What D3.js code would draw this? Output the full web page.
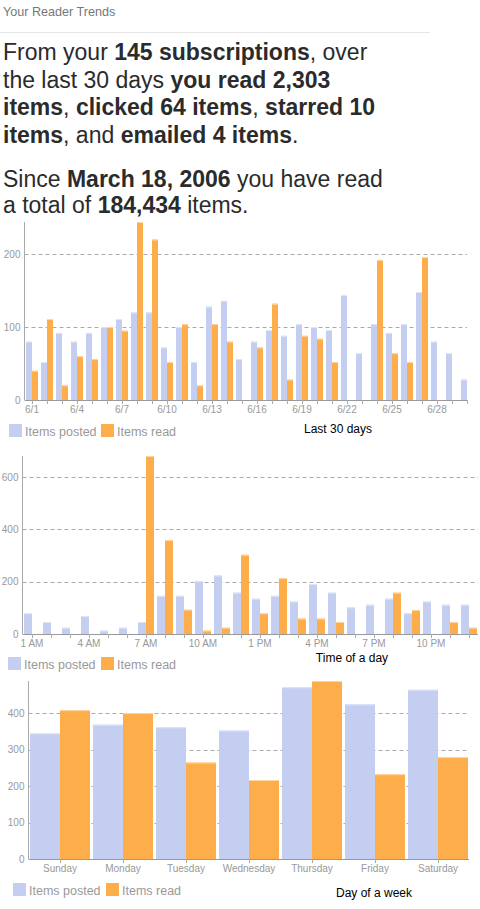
<!DOCTYPE html>
<html>
<head>
<meta charset="utf-8">
<script src="https://cdn.jsdelivr.net/npm/d3@7"></script>
<style>
  body { margin: 0; background: #fff; }
  svg { display: block; font-family: "Liberation Sans", Arial, sans-serif; }
</style>
</head>
<body>
<svg id="page" width="480" height="909"></svg>
<script>
// last 30 days
const days = ["6/1","6/2","6/3","6/4","6/5","6/6","6/7","6/8","6/9","6/10","6/11","6/12","6/13","6/14","6/15",
  "6/16","6/17","6/18","6/19","6/20","6/21","6/22","6/23","6/24","6/25","6/26","6/27","6/28","6/29","6/30"];
const dayPosted = [80,52,92,80,92,100,111,120,120,72,100,52,128,136,56,80,96,88,104,100,96,144,64,104,92,104,148,80,64,28];
const dayRead = [40,111,20,60,56,100,95,244,220,52,104,20,104,80,0,72,132,28,88,84,52,0,0,192,64,52,196,0,0,0];
const dayLabels = ["6/1","6/4","6/7","6/10","6/13","6/16","6/19","6/22","6/25","6/28"];
const dayYTicks = [0,100,200];

// time of a day
const hours = ["1 AM","2 AM","3 AM","4 AM","5 AM","6 AM","7 AM","8 AM","9 AM","10 AM","11 AM","12 PM",
  "1 PM","2 PM","3 PM","4 PM","5 PM","6 PM","7 PM","8 PM","9 PM","10 PM","11 PM","12 AM"];
const hourPosted = [79,46,24,69,13,24,46,146,146,203,224,158,135,146,124,191,158,102,112,135,79,124,112,112];
const hourRead = [0,0,0,0,0,0,681,359,93,13,24,303,79,214,59,59,46,0,0,158,92,0,46,24];
const hourLabels = ["1 AM","4 AM","7 AM","10 AM","1 PM","4 PM","7 PM","10 PM"];
const hourYTicks = [0,200,400,600];

// day of a week
const weekdays = ["Sunday","Monday","Tuesday","Wednesday","Thursday","Friday","Saturday"];
const weekPosted = [345,369,362,353,472,425,465];
const weekRead = [409,401,265,217,489,233,280];
const weekYTicks = [0,100,200,300,400];

const series = ["Items posted", "Items read"];
const colors = ["#c3cef0", "#fdae4b"];
const tops = ["#dfe5f8", "#fdd6a3"];

const svg = d3.select("#page");

// header
svg.append("text").attr("x", 3).attr("y", 16)
  .attr("font-size", 12.6).attr("fill", "#777").text("Your Reader Trends");
svg.append("line").attr("x1", 0).attr("x2", 430).attr("y1", 32.5).attr("y2", 32.5)
  .attr("stroke", "#e6e6e6");

// summary text, [text, bold] pieces per line
const summary = [
  { y: 60, parts: [["From your ", 0], ["145 subscriptions", 1], [", over", 0]] },
  { y: 87.7, parts: [["the last 30 days ", 0], ["you read 2,303", 1]] },
  { y: 115.3, parts: [["items", 1], [", ", 0], ["clicked 64 items", 1], [", ", 0], ["starred 10", 1]] },
  { y: 143, parts: [["items", 1], [", and ", 0], ["emailed 4 items", 1], [".", 0]] },
  { y: 186.7, parts: [["Since ", 0], ["March 18, 2006", 1], [" you have read", 0]] },
  { y: 213.3, parts: [["a total of ", 0], ["184,434", 1], [" items.", 0]] }
];
summary.forEach(function (line) {
  const t = svg.append("text").attr("x", 3).attr("y", line.y)
    .attr("font-size", 23).attr("fill", "#2b2b2b");
  line.parts.forEach(function (p) {
    t.append("tspan").attr("font-weight", p[1] ? "bold" : "normal").text(p[0]);
  });
});

function drawChart(c) {
  const g = svg.append("g");
  const y = d3.scaleLinear()
    .domain([0, d3.max(c.posted.concat(c.read))])
    .range([c.base, c.base - 178]);

  const x = d3.scaleBand().domain(c.cats)
    .range([c.x0, c.x0 + c.cats.length * c.step])
    .paddingInner(3 / c.step).paddingOuter(1.5 / c.step);
  const xs = d3.scaleBand().domain(series).range([0, x.bandwidth()]);

  // dashed grid
  g.selectAll(".grid").data(c.yTicks.filter(d => d > 0)).join("line")
    .attr("x1", c.axisX).attr("x2", c.end)
    .attr("y1", d => Math.round(y(d)) + 0.5).attr("y2", d => Math.round(y(d)) + 0.5)
    .attr("stroke", "#aaa").attr("stroke-dasharray", "4,3");

  const rows = c.cats.map((d, i) => ({ cat: d, vals: [c.posted[i], c.read[i]] }));
  const grp = g.selectAll(".grp").data(rows).join("g")
    .attr("transform", d => `translate(${x(d.cat)},0)`);
  grp.selectAll("rect.bar")
    .data(d => d.vals.map((v, k) => ({ k: k, v: v })).filter(e => e.v > 0))
    .join("rect").attr("class", "bar")
    .attr("x", e => xs(series[e.k])).attr("width", xs.bandwidth())
    .attr("y", e => y(e.v)).attr("height", e => c.base - y(e.v))
    .attr("fill", e => colors[e.k]);
  grp.selectAll("rect.top")
    .data(d => d.vals.map((v, k) => ({ k: k, v: v })).filter(e => e.v > 0))
    .join("rect").attr("class", "top")
    .attr("x", e => xs(series[e.k])).attr("width", xs.bandwidth())
    .attr("y", e => y(e.v)).attr("height", 1)
    .attr("fill", e => tops[e.k]);

  // axes
  g.append("line").attr("x1", c.axisX).attr("x2", c.axisX)
    .attr("y1", c.base - 178).attr("y2", c.base).attr("stroke", "#aaa");
  g.append("line").attr("x1", c.axisX).attr("x2", c.end)
    .attr("y1", c.base + 0.5).attr("y2", c.base + 0.5).attr("stroke", "#999");
  g.selectAll(".tick").data(c.cats).join("line")
    .attr("x1", d => Math.round(x(d) + x.bandwidth() / 2) + 0.5)
    .attr("x2", d => Math.round(x(d) + x.bandwidth() / 2) + 0.5)
    .attr("y1", c.base).attr("y2", c.base + 4).attr("stroke", "#aaa");
  g.selectAll(".xl").data(c.labels).join("text")
    .attr("x", d => x(d) + x.bandwidth() / 2).attr("y", c.base + 12.5)
    .attr("text-anchor", "middle").attr("font-size", 10).attr("fill", "#999")
    .text(d => d);
  g.selectAll(".yl").data(c.yTicks).join("text")
    .attr("x", c.axisX - 4).attr("y", d => y(d) + 3.5)
    .attr("text-anchor", "end").attr("font-size", 10).attr("fill", "#999")
    .text(d => d);

  // legend
  series.forEach(function (s, k) {
    g.append("rect").attr("x", c.legX[k]).attr("y", c.legY - 12)
      .attr("width", 13).attr("height", 13).attr("fill", colors[k]);
    g.append("text").attr("x", c.legX[k] + 16).attr("y", c.legY)
      .attr("font-size", 12.5).attr("fill", "#999").text(s);
  });
  g.append("text").attr("x", c.titleX).attr("y", c.titleY)
    .attr("text-anchor", "middle").attr("font-size", 12).attr("fill", "#000")
    .text(c.title);
}

drawChart({ cats: days, posted: dayPosted, read: dayRead, labels: dayLabels, yTicks: dayYTicks,
  base: 400, axisX: 24.5, x0: 24.5, step: 15, end: 467,
  legX: [9, 101], legY: 436, title: "Last 30 days", titleX: 338, titleY: 433 });

drawChart({ cats: hours, posted: hourPosted, read: hourRead, labels: hourLabels, yTicks: hourYTicks,
  base: 634, axisX: 22.5, x0: 22.5, step: 19, end: 478,
  legX: [8, 101], legY: 669, title: "Time of a day", titleX: 352, titleY: 662 });

drawChart({ cats: weekdays, posted: weekPosted, read: weekRead, labels: weekdays, yTicks: weekYTicks,
  base: 859, axisX: 28.5, x0: 28.5, step: 63, end: 469,
  legX: [13, 106], legY: 895, title: "Day of a week", titleX: 374, titleY: 897 });
</script>
</body>
</html>
